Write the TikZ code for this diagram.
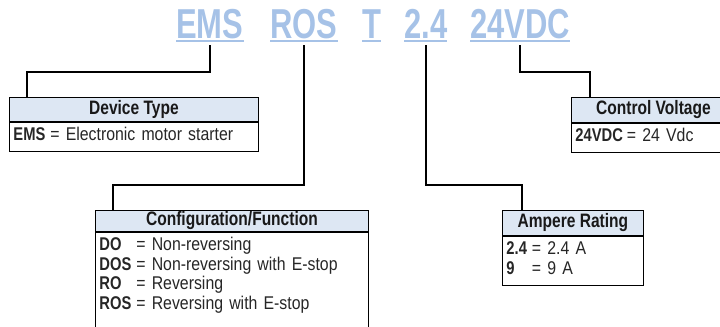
\documentclass[tikz,border=0pt]{standalone}
\usepackage{fontspec}
\setmainfont{Liberation Sans}[FakeStretch=0.86,BoldFeatures={FakeStretch=0.8}]
\newfontfamily\codefont{Liberation Sans}[FakeStretch=0.74]
\usepackage{tikz}
\usetikzlibrary{positioning,calc}
\definecolor{CodeBlue}{RGB}{166,194,231}
\definecolor{HeadBlue}{RGB}{221,231,243}
\tikzset{
  code/.style={font=\fontsize{42}{42}\codefont\bfseries,text=CodeBlue,inner sep=0pt,anchor=base west},
  uline/.style={draw=CodeBlue,line width=2bp},
  conn/.style={draw=black,line width=1.6bp},
  head/.style={draw=black,fill=HeadBlue,line width=0.9bp,anchor=north west,inner sep=0pt,
    minimum height=24bp,text=black!90,font=\fontsize{19.5}{22}\selectfont\bfseries},
  body/.style={draw=black,line width=0.9bp,anchor=north west,inner xsep=4bp,inner ysep=5bp,
    align=left,text=black!85,font=\fontsize{18.5}{19.5}\selectfont},
}
\newcommand{\keyrow}[2]{\textbf{#1} & = #2}

\begin{document}
\begin{tikzpicture}[x=1bp,y=-1bp]
\useasboundingbox (0,0) rectangle (720,326);
\clip (0,0) rectangle (720,326);
% ordering code
\node[code] (tEMS) at (176,38) {EMS};
\node[code] (tROS) at (270,38) {ROS};
\node[code] (tT) at (362,38) {T};
\node[code] (tAmp) at (404,38) {2.4};
\node[code] (tVolt) at (470,38) {24VDC};
\foreach \w in {tEMS,tROS,tT,tAmp,tVolt}
  \draw[uline] ([yshift=-3bp]\w.base west) -- ([yshift=-3bp]\w.base east);
% boxes
\node[head,minimum width=249bp] (devhead) at (9,97) {Device Type};
\node[body,text width=241bp] (devbody) at (devhead.south west)
  {\begin{tabular}{@{}l@{\hspace{5bp}}l@{}}\keyrow{EMS}{Electronic motor starter}\end{tabular}};
\node[head,minimum width=273bp,minimum height=21bp] (cfghead) at (95,210) {Configuration/Function};
\node[body,text width=265bp,text depth=100bp] (cfgbody) at (cfghead.south west)
  {\begin{tabular}[t]{@{}l@{\hspace{5bp}}l@{}}
    \keyrow{DO}{Non-reversing}\\
    \keyrow{DOS}{Non-reversing with E-stop}\\
    \keyrow{RO}{Reversing}\\
    \keyrow{ROS}{Reversing with E-stop}
  \end{tabular}};
\node[head,minimum width=141bp,minimum height=25bp] (amphead) at (502,210) {Ampere Rating};
\node[body,text width=133bp] (ampbody) at (amphead.south west)
  {\begin{tabular}{@{}l@{\hspace{5bp}}l@{}}
    \keyrow{2.4}{2.4 A}\\
    \keyrow{9}{9 A}
  \end{tabular}};
\node[head,minimum width=164bp,minimum height=25bp] (ctlhead) at (571,97) {Control Voltage};
\node[body,text width=156bp] (ctlbody) at (ctlhead.south west)
  {\begin{tabular}{@{}l@{\hspace{4bp}}l@{}}\keyrow{24VDC}{24 Vdc}\end{tabular}};
% connectors
\draw[conn] ([yshift=-7bp]tEMS.base) -- ++(0,27) -| ([xshift=18bp]devhead.north west);
\draw[conn] ([yshift=-7bp]tROS.base) -- ++(0,140) -| ([xshift=18bp]cfghead.north west);
\draw[conn] ([yshift=-7bp]tAmp.base) -- ++(0,140) -| ([xshift=20bp]amphead.north west);
\draw[conn] ([yshift=-7bp]tVolt.base) -- ++(0,27) -| ([xshift=19bp]ctlhead.north west);
\end{tikzpicture}
\end{document}
